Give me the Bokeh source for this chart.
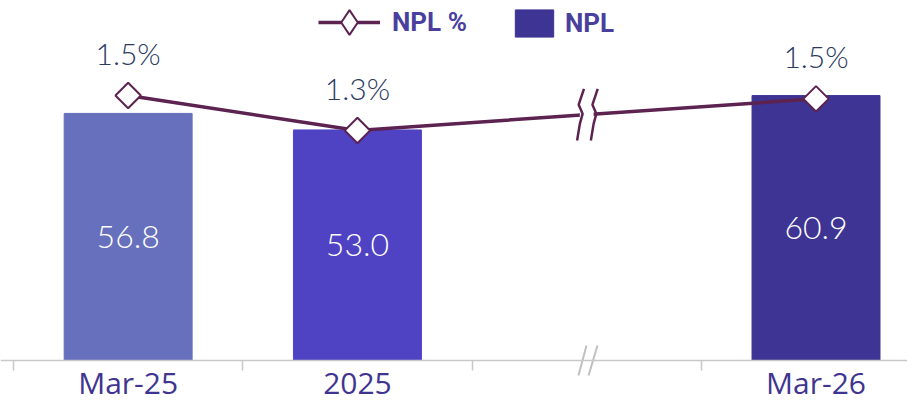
from bokeh.plotting import figure
from bokeh.models import (ColumnDataSource, Range1d, FixedTicker,
                          Legend, LegendItem)
from bokeh.core.properties import value
from bokeh.embed import file_html
from bokeh.resources import INLINE

# ---- data ----
categories = ["Mar-25", "2025", "Mar-26"]
npl = [56.8, 53.0, 60.9]
npl_pct = [1.52, 1.31, 1.50]
npl_pct_labels = ["1.5%", "1.3%", "1.5%"]
bar_colors = ["#6670bd", "#4f43c4", "#3e3494"]
# category slots on the x axis (slot 2 is the break gap)
slots = [0.5, 1.5, 3.5]
break_slot = 2.5

FONT = "Open Sans"
LIGHT = "Lato Light"
LINE_COLOR = "#5c2350"
TEXT_DARK = "#2b3a63"
AXIS_TEXT = "#3f3590"

p = figure(width=907, height=403, output_backend="svg", toolbar_location=None,
           x_range=Range1d(-0.0567, 3.899), y_range=Range1d(-9.89, 82.76),
           min_border_left=0, min_border_right=0, min_border_top=0,
           min_border_bottom=0)
p.outline_line_color = None
p.grid.visible = False
p.yaxis.visible = False
p.background_fill_color = "white"
p.border_fill_color = "white"

p.extra_y_ranges = {"pct": Range1d(-0.328, 2.090)}

# x axis, drawn at y = 0 inside the frame
xa = p.xaxis[0]
xa.fixed_location = 0
xa.ticker = FixedTicker(ticks=slots, minor_ticks=[0, 1, 2, 3])
xa.major_label_overrides = {s: c for s, c in zip(slots, categories)}
xa.major_tick_line_color = None
xa.major_tick_out = 0
xa.major_tick_in = 0
xa.minor_tick_line_color = "#c8c8c8"
xa.minor_tick_line_width = 1.5
xa.minor_tick_out = 10
xa.minor_tick_in = 0
xa.axis_line_color = "#c8c8c8"
xa.axis_line_width = 1.5
xa.major_label_text_font = FONT
xa.major_label_text_font_size = "30px"
xa.major_label_text_color = AXIS_TEXT
xa.major_label_standoff = -8

# axis break marks "//"
ab_dx0 = [-0.036, 0.008]
ab_dx1 = [-0.001, 0.047]
p.multi_line(xs=[[break_slot + a, break_slot + b] for a, b in zip(ab_dx0, ab_dx1)],
             ys=[[-3.45, 3.45], [-3.45, 3.45]], line_color="#c0c0c0", line_width=2)

# bars
src = ColumnDataSource(dict(x=slots, top=npl, color=bar_colors,
                            mid=[v / 2 for v in npl],
                            lab=[f"{v:.1f}" for v in npl],
                            pct=npl_pct, pct_lab=npl_pct_labels))
bars = p.vbar(x="x", top="top", width=0.558, color="color", source=src)
p.text(x="x", y="mid", text="lab", source=src, text_align="center",
       text_baseline="middle", text_color="white",
       text_font=value(LIGHT), text_font_size="32px")

# line
line = p.line(x="x", y="pct", source=src, line_color=LINE_COLOR,
              line_width=3.5, y_range_name="pct")

# break on the line: white gap + two wavy marks
bx0, bx1 = break_slot - 0.03, break_slot + 0.03
p.quad(left=[bx0], right=[bx1], bottom=[1.28], top=[1.55],
       fill_color="white", line_color=None, y_range_name="pct")
wave_dx = [0.018, -0.005, 0.012, 0.0, -0.012]
wave_dy = [0.16, 0.065, 0.01, -0.05, -0.15]
mid_y = 1.40
xs = [[bx0 + d for d in wave_dx], [bx1 + d for d in wave_dx]]
ys = [[mid_y + d for d in wave_dy], [mid_y + d for d in wave_dy]]
p.multi_line(xs=xs, ys=ys, line_color=LINE_COLOR, line_width=2.5,
             y_range_name="pct")

pts = p.scatter(x="x", y="pct", source=src, marker="square", angle=0.785398,
                size=18, fill_color="white", line_color=LINE_COLOR,
                line_width=2, y_range_name="pct")
p.text(x="x", y="pct", text="pct_lab", source=src, text_align="center",
       text_baseline="middle", y_offset=-43, text_color=TEXT_DARK,
       text_font=value(LIGHT), text_font_size="30px", y_range_name="pct")

# legend-only diamond key (NaN point: not drawn in the plot itself)
key_src = ColumnDataSource(dict(x=[float("nan")], y=[float("nan")]))
key = p.scatter(x="x", y="y", source=key_src, marker="diamond",
                fill_color="white", line_color=LINE_COLOR, line_width=2,
                y_range_name="pct")

# legends
leg_style = dict(padding=0, margin=0, border_line_color=None,
                 background_fill_alpha=0, label_text_font="Roboto",
                 label_text_font_style="bold", label_text_font_size="26px",
                 label_text_color="#4b3f9e")
leg1 = Legend(items=[LegendItem(label="NPL %", renderers=[line, key])],
              location=(318, 349), glyph_width=62, glyph_height=64,
              label_height=64, label_standoff=12, **leg_style)
leg2 = Legend(items=[LegendItem(label="NPL", renderers=[bars], index=2)],
              location=(510, 363), glyph_width=48, glyph_height=34,
              label_height=34, label_standoff=7, **leg_style)
p.add_layout(leg1, "center")
p.add_layout(leg2, "center")

open("out.html", "w").write(file_html(p, INLINE))
